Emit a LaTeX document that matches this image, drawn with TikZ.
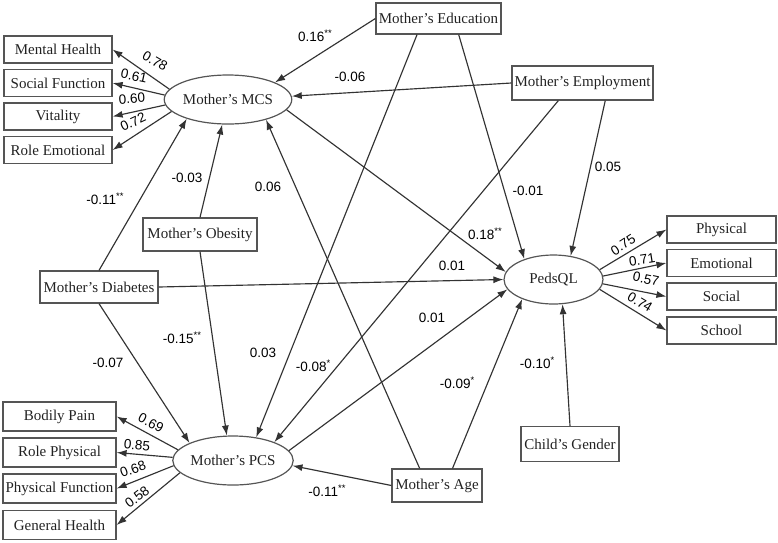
\documentclass[tikz,border=0pt]{standalone}
\usepackage{fontspec}
\setmainfont{Liberation Serif}
\newfontfamily\coeffont{Liberation Sans}
\usetikzlibrary{shapes.geometric,arrows.meta,calc}
\definecolor{ln}{HTML}{333333}
\definecolor{bx}{HTML}{555555}
\definecolor{tx}{HTML}{222222}
\newcommand{\sg}[1]{\raisebox{0.38em}{\fontsize{9.5}{9.5}\selectfont #1}}
\begin{document}
\begin{tikzpicture}[x=1pt,y=-1pt,
  box/.style={draw=bx, line width=1.2pt, rectangle, inner sep=0pt, text=tx,
    font=\fontsize{15}{17}\selectfont, minimum height=27pt},
  lat/.style={draw=bx, line width=1.2pt, ellipse, inner sep=0pt, text=tx,
    font=\fontsize{15}{17}\selectfont, minimum width=99pt, minimum height=49pt},
  arr/.style={draw=ln, line width=1.15pt, -{Latex[length=10pt,width=7pt]}},
  coef/.style={font=\coeffont\fontsize{13.5}{15}\selectfont, text=black, inner sep=0pt},
]
\useasboundingbox (0,0) rectangle (778,542);

% latent variables
\node[lat] (mcs) at (228,99.5) {Mother's MCS};
\node[lat] (pcs) at (233,460.5) {Mother's PCS};
\node[lat] (peds) at (553.5,279.5) {PedsQL};

% MCS indicators
\node[box, minimum width=108pt] (mh) at (58,49.5) {Mental Health};
\node[box, minimum width=108pt] (sf) at (58,83) {Social Function};
\node[box, minimum width=108pt] (vi) at (58,116.5) {Vitality};
\node[box, minimum width=108pt] (re) at (58,150) {Role Emotional};

% PCS indicators
\node[box, minimum width=113pt, minimum height=29pt] (bp) at (59.5,416.5) {Bodily Pain};
\node[box, minimum width=113pt, minimum height=29pt] (rp) at (59.5,452.5) {Role Physical};
\node[box, minimum width=113pt, minimum height=29pt] (pf) at (59.5,488.5) {Physical Function};
\node[box, minimum width=113pt, minimum height=29pt] (gh) at (59.5,525) {General Health};

% PedsQL indicators
\node[box, minimum width=109pt] (ph) at (721.5,229.5) {Physical};
\node[box, minimum width=109pt] (em) at (721.5,263) {Emotional};
\node[box, minimum width=109pt] (so) at (721.5,296.5) {Social};
\node[box, minimum width=109pt] (sc) at (721.5,330.5) {School};

% observed predictors
\node[box, minimum width=125pt, minimum height=31pt] (edu) at (438.5,18.5) {Mother's Education};
\node[box, minimum width=141pt, minimum height=34pt] (emp) at (582.5,83) {Mother's Employment};
\node[box, minimum width=114pt, minimum height=33pt] (obe) at (200,234.5) {Mother's Obesity};
\node[box, minimum width=118pt, minimum height=32pt] (dia) at (99,287) {Mother's Diabetes};
\node[box, minimum width=90pt, minimum height=33pt] (age) at (437,485.5) {Mother's Age};
\node[box, minimum width=98pt, minimum height=35pt] (gen) at (570,444) {Child's Gender};

% measurement arrows
\draw[arr] (mcs.170) -- (mh.east);
\draw[arr] (mcs.176) -- (sf.east);
\draw[arr] (mcs.185) -- (vi.east);
\draw[arr] (mcs.192) -- (re.east);
\draw[arr] (pcs.169) -- (bp.east);
\draw[arr] (pcs.177) -- (rp.east);
\draw[arr] (pcs.185) -- (pf.east);
\draw[arr] (pcs.193) -- (gh.east);
\draw[arr] (peds.12) -- (ph.west);
\draw[arr] (peds.4) -- (em.west);
\draw[arr] (peds.-5) -- (so.west);
\draw[arr] (peds.-12) -- (sc.west);

% structural arrows
\draw[arr] (edu.west) -- (mcs.20);
\draw[arr] ($(edu.south west)!0.33!(edu.south east)$) -- (pcs.45);
\draw[arr] ($(edu.south west)!0.66!(edu.south east)$) -- (peds.145);
\draw[arr] (emp.west) -- (mcs.3);
\draw[arr] ($(emp.south west)!0.33!(emp.south east)$) -- (pcs.24);
\draw[arr] ($(emp.south west)!0.66!(emp.south east)$) -- (peds.54);
\draw[arr] (mcs.-10) -- (peds.171);
\draw[arr] (pcs.10) -- (peds.192);
\draw[arr] (dia.north) -- (mcs.205);
\draw[arr] (dia.east) -- (peds.west);
\draw[arr] (dia.south) -- (pcs.158);
\draw[arr] (obe.north) -- (mcs.257);
\draw[arr] (obe.south) -- (pcs.104);
\draw[arr] ($(age.north west)!0.31!(age.north east)$) -- (mcs.-28);
\draw[arr] ($(age.north west)!0.67!(age.north east)$) -- (peds.212);
\draw[arr] (age.west) -- (pcs.-5);
\draw[arr] (gen.north) -- (peds.290);

% loadings
\node[coef, rotate=-30] (l1) at (155,61) {0.78};
\node[coef, rotate=-12] (l2) at (134,76) {0.61};
\node[coef, rotate=4] (l3) at (132,98.5) {0.60};
\node[coef, rotate=25] (l4) at (133,122) {0.72};
\node[coef, rotate=-28] (l5) at (151,423) {0.69};
\node[coef, rotate=-5] (l6) at (137,445) {0.85};
\node[coef, rotate=20] (l7) at (133,469) {0.68};
\node[coef, rotate=37] (l8) at (137,497) {0.58};
\node[coef, rotate=33] (l9) at (623,245) {0.75};
\node[coef, rotate=9] (l10) at (642,260) {0.71};
\node[coef, rotate=-12] (l11) at (646,279) {0.57};
\node[coef, rotate=-31] (l12) at (640,302) {0.74};

% path coefficients
\node[coef] (c1) at (315,36) {0.16\sg{**}};
\node[coef] (c2) at (350,77) {-0.06};
\node[coef] (c3) at (608,167) {0.05};
\node[coef] (c4) at (528,191) {-0.01};
\node[coef] (c5) at (485,234) {0.18\sg{**}};
\node[coef] (c6) at (452,266) {0.01};
\node[coef] (c7) at (432,318) {0.01};
\node[coef] (c8) at (105,199) {-0.11\sg{**}};
\node[coef] (c9) at (187,178) {-0.03};
\node[coef] (c10) at (268,187) {0.06};
\node[coef] (c11) at (182,338) {-0.15\sg{**}};
\node[coef] (c12) at (263,353) {0.03};
\node[coef] (c13) at (313,366) {-0.08\sg{*}};
\node[coef] (c14) at (108,363) {-0.07};
\node[coef] (c15) at (457,383) {-0.09\sg{*}};
\node[coef] (c16) at (537,363) {-0.10\sg{*}};
\node[coef] (c17) at (327,491) {-0.11\sg{**}};
\end{tikzpicture}
\end{document}
